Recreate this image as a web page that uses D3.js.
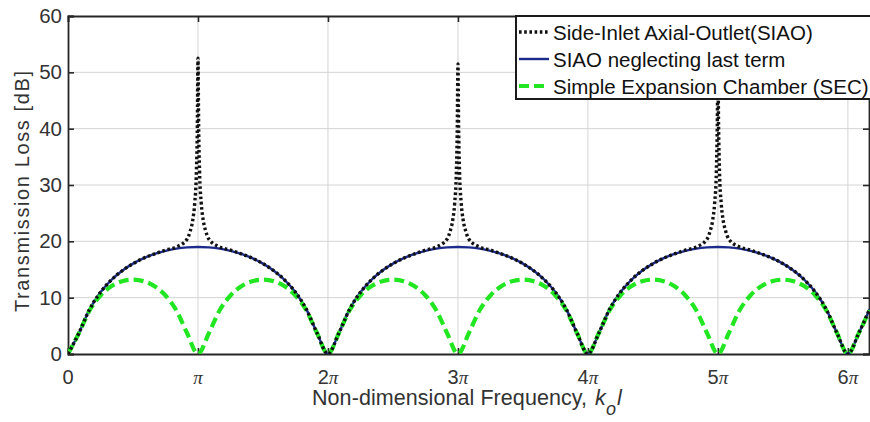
<!DOCTYPE html>
<html>
<head>
<meta charset="utf-8">
<script src="https://cdn.jsdelivr.net/npm/d3@7"></script>
<style>
  html, body { margin: 0; padding: 0; background: #fff; }
  svg { display: block; font-family: "Liberation Sans", Arial, sans-serif; }
</style>
</head>
<body>
<svg id="chart" width="870" height="422"></svg>
<script>
// ---- data (x in units of pi) ----
const gridX = [0, 0.0833, 0.1667, 0.25, 0.3333, 0.4167, 0.5, 0.5833, 0.6667, 0.75, 0.8333, 0.9167,
  1, 1.0833, 1.1667, 1.25, 1.3333, 1.4167, 1.5, 1.5833, 1.6667, 1.75, 1.8333, 1.9167,
  2, 2.0833, 2.1667, 2.25, 2.3333, 2.4167, 2.5, 2.5833, 2.6667, 2.75, 2.8333, 2.9167,
  3, 3.0833, 3.1667, 3.25, 3.3333, 3.4167, 3.5, 3.5833, 3.6667, 3.75, 3.8333, 3.9167,
  4, 4.0833, 4.1667, 4.25, 4.3333, 4.4167, 4.5, 4.5833, 4.6667, 4.75, 4.8333, 4.9167,
  5, 5.0833, 5.1667, 5.25, 5.3333, 5.4167, 5.5, 5.5833, 5.6667, 5.75, 5.8333, 5.9167,
  6, 6.0833, 6.1667];

const siaoNoLast = [0, 3.68, 7.96, 10.96, 13.14, 14.78, 16.04, 17.02, 17.77, 18.32, 18.70, 18.92,
  19.00, 18.92, 18.70, 18.32, 17.77, 17.02, 16.04, 14.78, 13.14, 10.96, 7.96, 3.68,
  0, 3.68, 7.96, 10.96, 13.14, 14.78, 16.04, 17.02, 17.77, 18.32, 18.70, 18.92,
  19.00, 18.92, 18.70, 18.32, 17.77, 17.02, 16.04, 14.78, 13.14, 10.96, 7.96, 3.68,
  0, 3.68, 7.96, 10.96, 13.14, 14.78, 16.04, 17.02, 17.77, 18.32, 18.70, 18.92,
  19.00, 18.92, 18.70, 18.32, 17.77, 17.02, 16.04, 14.78, 13.14, 10.96, 7.96, 3.68,
  0, 3.68, 7.96];

const sec = [0, 3.68, 7.76, 10.39, 12.02, 12.92, 13.20, 12.92, 12.02, 10.39, 7.76, 3.68,
  0, 3.68, 7.76, 10.39, 12.02, 12.92, 13.20, 12.92, 12.02, 10.39, 7.76, 3.68,
  0, 3.68, 7.76, 10.39, 12.02, 12.92, 13.20, 12.92, 12.02, 10.39, 7.76, 3.68,
  0, 3.68, 7.76, 10.39, 12.02, 12.92, 13.20, 12.92, 12.02, 10.39, 7.76, 3.68,
  0, 3.68, 7.76, 10.39, 12.02, 12.92, 13.20, 12.92, 12.02, 10.39, 7.76, 3.68,
  0, 3.68, 7.76, 10.39, 12.02, 12.92, 13.20, 12.92, 12.02, 10.39, 7.76, 3.68,
  0, 3.68, 7.76];

const siaoX = [
  0, 0.0833, 0.1667, 0.25, 0.3333, 0.4167, 0.5, 0.5833, 0.6667, 0.75, 0.8333, 0.9167, 0.94, 0.96, 0.975, 0.988, 0.995,
  1, 1.005, 1.012, 1.025, 1.04, 1.06, 1.0833, 1.1667, 1.25, 1.3333, 1.4167, 1.5, 1.5833, 1.6667, 1.75, 1.8333, 1.9167,
  2, 2.0833, 2.1667, 2.25, 2.3333, 2.4167, 2.5, 2.5833, 2.6667, 2.75, 2.8333, 2.9167, 2.94, 2.96, 2.975, 2.988, 2.995,
  3, 3.005, 3.012, 3.025, 3.04, 3.06, 3.0833, 3.1667, 3.25, 3.3333, 3.4167, 3.5, 3.5833, 3.6667, 3.75, 3.8333, 3.9167,
  4, 4.0833, 4.1667, 4.25, 4.3333, 4.4167, 4.5, 4.5833, 4.6667, 4.75, 4.8333, 4.9167, 4.94, 4.96, 4.975, 4.988, 4.995,
  5, 5.005, 5.012, 5.025, 5.04, 5.06, 5.0833, 5.1667, 5.25, 5.3333, 5.4167, 5.5, 5.5833, 5.6667, 5.75, 5.8333, 5.9167,
  6, 6.0833, 6.1667];

const siao = [
  0, 3.68, 7.96, 10.96, 13.14, 14.78, 16.04, 17.02, 17.77, 18.45, 19.0, 20.4, 21.8, 23.8, 26.8, 32.5, 40.5,
  52.5, 40.5, 32.5, 26.8, 23.8, 21.8, 20.4, 19.0, 18.45, 17.77, 17.02, 16.04, 14.78, 13.14, 10.96, 7.96, 3.68,
  0, 3.68, 7.96, 10.96, 13.14, 14.78, 16.04, 17.02, 17.77, 18.45, 19.0, 20.4, 21.8, 23.8, 26.8, 32.5, 40.5,
  51.5, 40.5, 32.5, 26.8, 23.8, 21.8, 20.4, 19.0, 18.45, 17.77, 17.02, 16.04, 14.78, 13.14, 10.96, 7.96, 3.68,
  0, 3.68, 7.96, 10.96, 13.14, 14.78, 16.04, 17.02, 17.77, 18.45, 19.0, 20.4, 21.8, 23.8, 26.8, 32.5, 40.5,
  51.0, 40.5, 32.5, 26.8, 23.8, 21.8, 20.4, 19.0, 18.45, 17.77, 17.02, 16.04, 14.78, 13.14, 10.96, 7.96, 3.68,
  0, 3.68, 7.96];

const xTicks = [0, 1, 2, 3, 4, 5, 6];
const xTickLabels = [["0", ""], ["", "π"], ["2", "π"], ["3", "π"], ["4", "π"], ["5", "π"], ["6", "π"]];
const yTicks = [0, 10, 20, 30, 40, 50, 60];
const legendLabels = ["Side-Inlet Axial-Outlet(SIAO)", "SIAO neglecting last term", "Simple Expansion Chamber (SEC)"];

// ---- layout ----
const L = 68, R = 870, T = 16, B = 354;
const svg = d3.select("#chart");
const x = d3.scaleLinear().domain([0, 6.17]).range([L, R]);
const y = d3.scaleLinear().domain([0, 60]).range([B, T]);

svg.append("defs").append("clipPath").attr("id", "clip")
  .append("rect").attr("x", L).attr("y", T).attr("width", R - L).attr("height", B - T);

// grid
const grid = svg.append("g");
grid.selectAll("line.gx").data(xTicks.filter(d => d > 0)).join("line")
  .attr("x1", d => x(d)).attr("x2", d => x(d)).attr("y1", T).attr("y2", B)
  .attr("stroke", "#d4d4d4").attr("stroke-width", 1);
grid.selectAll("line.gy").data(yTicks.filter(d => d > 0 && d < 60)).join("line")
  .attr("y1", d => y(d)).attr("y2", d => y(d)).attr("x1", L).attr("x2", R)
  .attr("stroke", "#d4d4d4").attr("stroke-width", 1);

// axes
const axisColor = "#262626";
const yAxis = svg.append("g").attr("transform", `translate(${L},0)`)
  .call(d3.axisLeft(y).tickValues(yTicks).tickSize(-6).tickPadding(6).tickFormat(d3.format("d")));
const yAxisR = svg.append("g").attr("transform", `translate(${R - 1},0)`)
  .call(d3.axisRight(y).tickValues(yTicks).tickSize(-6).tickFormat(""));
const xAxis = svg.append("g").attr("transform", `translate(0,${B})`)
  .call(d3.axisBottom(x).tickValues(xTicks).tickSize(-6).tickFormat(""));
const xAxisT = svg.append("g").attr("transform", `translate(0,${T})`)
  .call(d3.axisTop(x).tickValues(xTicks).tickSize(-6).tickFormat(""));
[yAxis, yAxisR, xAxis, xAxisT].forEach(g => {
  g.selectAll(".domain").attr("stroke", axisColor).attr("stroke-width", 1.8);
  g.selectAll(".tick line").attr("stroke", axisColor).attr("stroke-width", 1.6);
});
yAxis.selectAll(".tick text").attr("font-size", 20.5).attr("fill", "#333")
  .attr("font-family", "Liberation Sans, Arial, sans-serif");

// x tick labels
const xl = svg.append("g");
xTicks.forEach((t, i) => {
  const txt = xl.append("text").attr("x", x(t)).attr("y", 384)
    .attr("text-anchor", "middle").attr("fill", "#333").attr("font-size", 20);
  if (xTickLabels[i][0]) txt.append("tspan").text(xTickLabels[i][0]);
  if (xTickLabels[i][1]) txt.append("tspan").attr("font-style", "italic")
    .attr("font-family", "Liberation Serif, serif").attr("font-size", 19).text(xTickLabels[i][1]);
});

// axis titles
svg.append("text").attr("transform", "translate(29,191.5) rotate(-90)")
  .attr("text-anchor", "middle").attr("font-size", 20).attr("fill", "#333")
  .attr("textLength", 241).attr("lengthAdjust", "spacing")
  .text("Transmission Loss [dB]");
const xt = svg.append("text").attr("x", 312).attr("y", 405).attr("font-size", 21.5).attr("fill", "#333");
xt.append("tspan").attr("textLength", 275).attr("lengthAdjust", "spacing").text("Non-dimensional Frequency,");
xt.append("tspan").attr("x", 595).attr("font-style", "italic").text("k");
xt.append("tspan").attr("x", 606).attr("dy", 10).attr("font-style", "italic").attr("font-size", 18).text("o");
xt.append("tspan").attr("x", 617).attr("dy", -10).attr("font-style", "italic").text("l");

// series
const plot = svg.append("g").attr("clip-path", "url(#clip)");
const lineXY = d3.line().x(d => x(d[0])).y(d => y(d[1])).curve(d3.curveMonotoneX);
const blueColor = "#1c2a8a", greenColor = "#22e622", blackColor = "#111";
plot.append("path").datum(gridX.map((v, i) => [v, siaoNoLast[i]])).attr("d", lineXY)
  .attr("fill", "none").attr("stroke", blueColor).attr("stroke-width", 2.4);
plot.append("path").datum(gridX.map((v, i) => [v, sec[i]])).attr("d", lineXY)
  .attr("fill", "none").attr("stroke", greenColor).attr("stroke-width", 4.2).attr("stroke-dasharray", "10,5");
plot.append("path").datum(siaoX.map((v, i) => [v, siao[i]])).attr("d", lineXY)
  .attr("fill", "none").attr("stroke", blackColor).attr("stroke-width", 3.4).attr("stroke-dasharray", "2.6,2.6");

// legend
const lg = svg.append("g");
lg.append("rect").attr("x", 516).attr("y", 16).attr("width", 400).attr("height", 83)
  .attr("fill", "#fff").attr("stroke", "#1a1a1a").attr("stroke-width", 2);
const rowsY = [32, 59, 86];
const styles = [
  {stroke: blackColor, w: 3.4, dash: "2.6,2.6"},
  {stroke: blueColor, w: 2.4, dash: null},
  {stroke: greenColor, w: 4.2, dash: "10,5"}
];
legendLabels.forEach((lab, i) => {
  lg.append("line").attr("x1", 519).attr("x2", 549).attr("y1", rowsY[i]).attr("y2", rowsY[i])
    .attr("stroke", styles[i].stroke).attr("stroke-width", styles[i].w)
    .attr("stroke-dasharray", styles[i].dash);
  lg.append("text").attr("x", 553).attr("y", rowsY[i] + 7.5).attr("font-size", 20.5)
    .attr("fill", "#111").text(lab);
});
</script>
</body>
</html>
